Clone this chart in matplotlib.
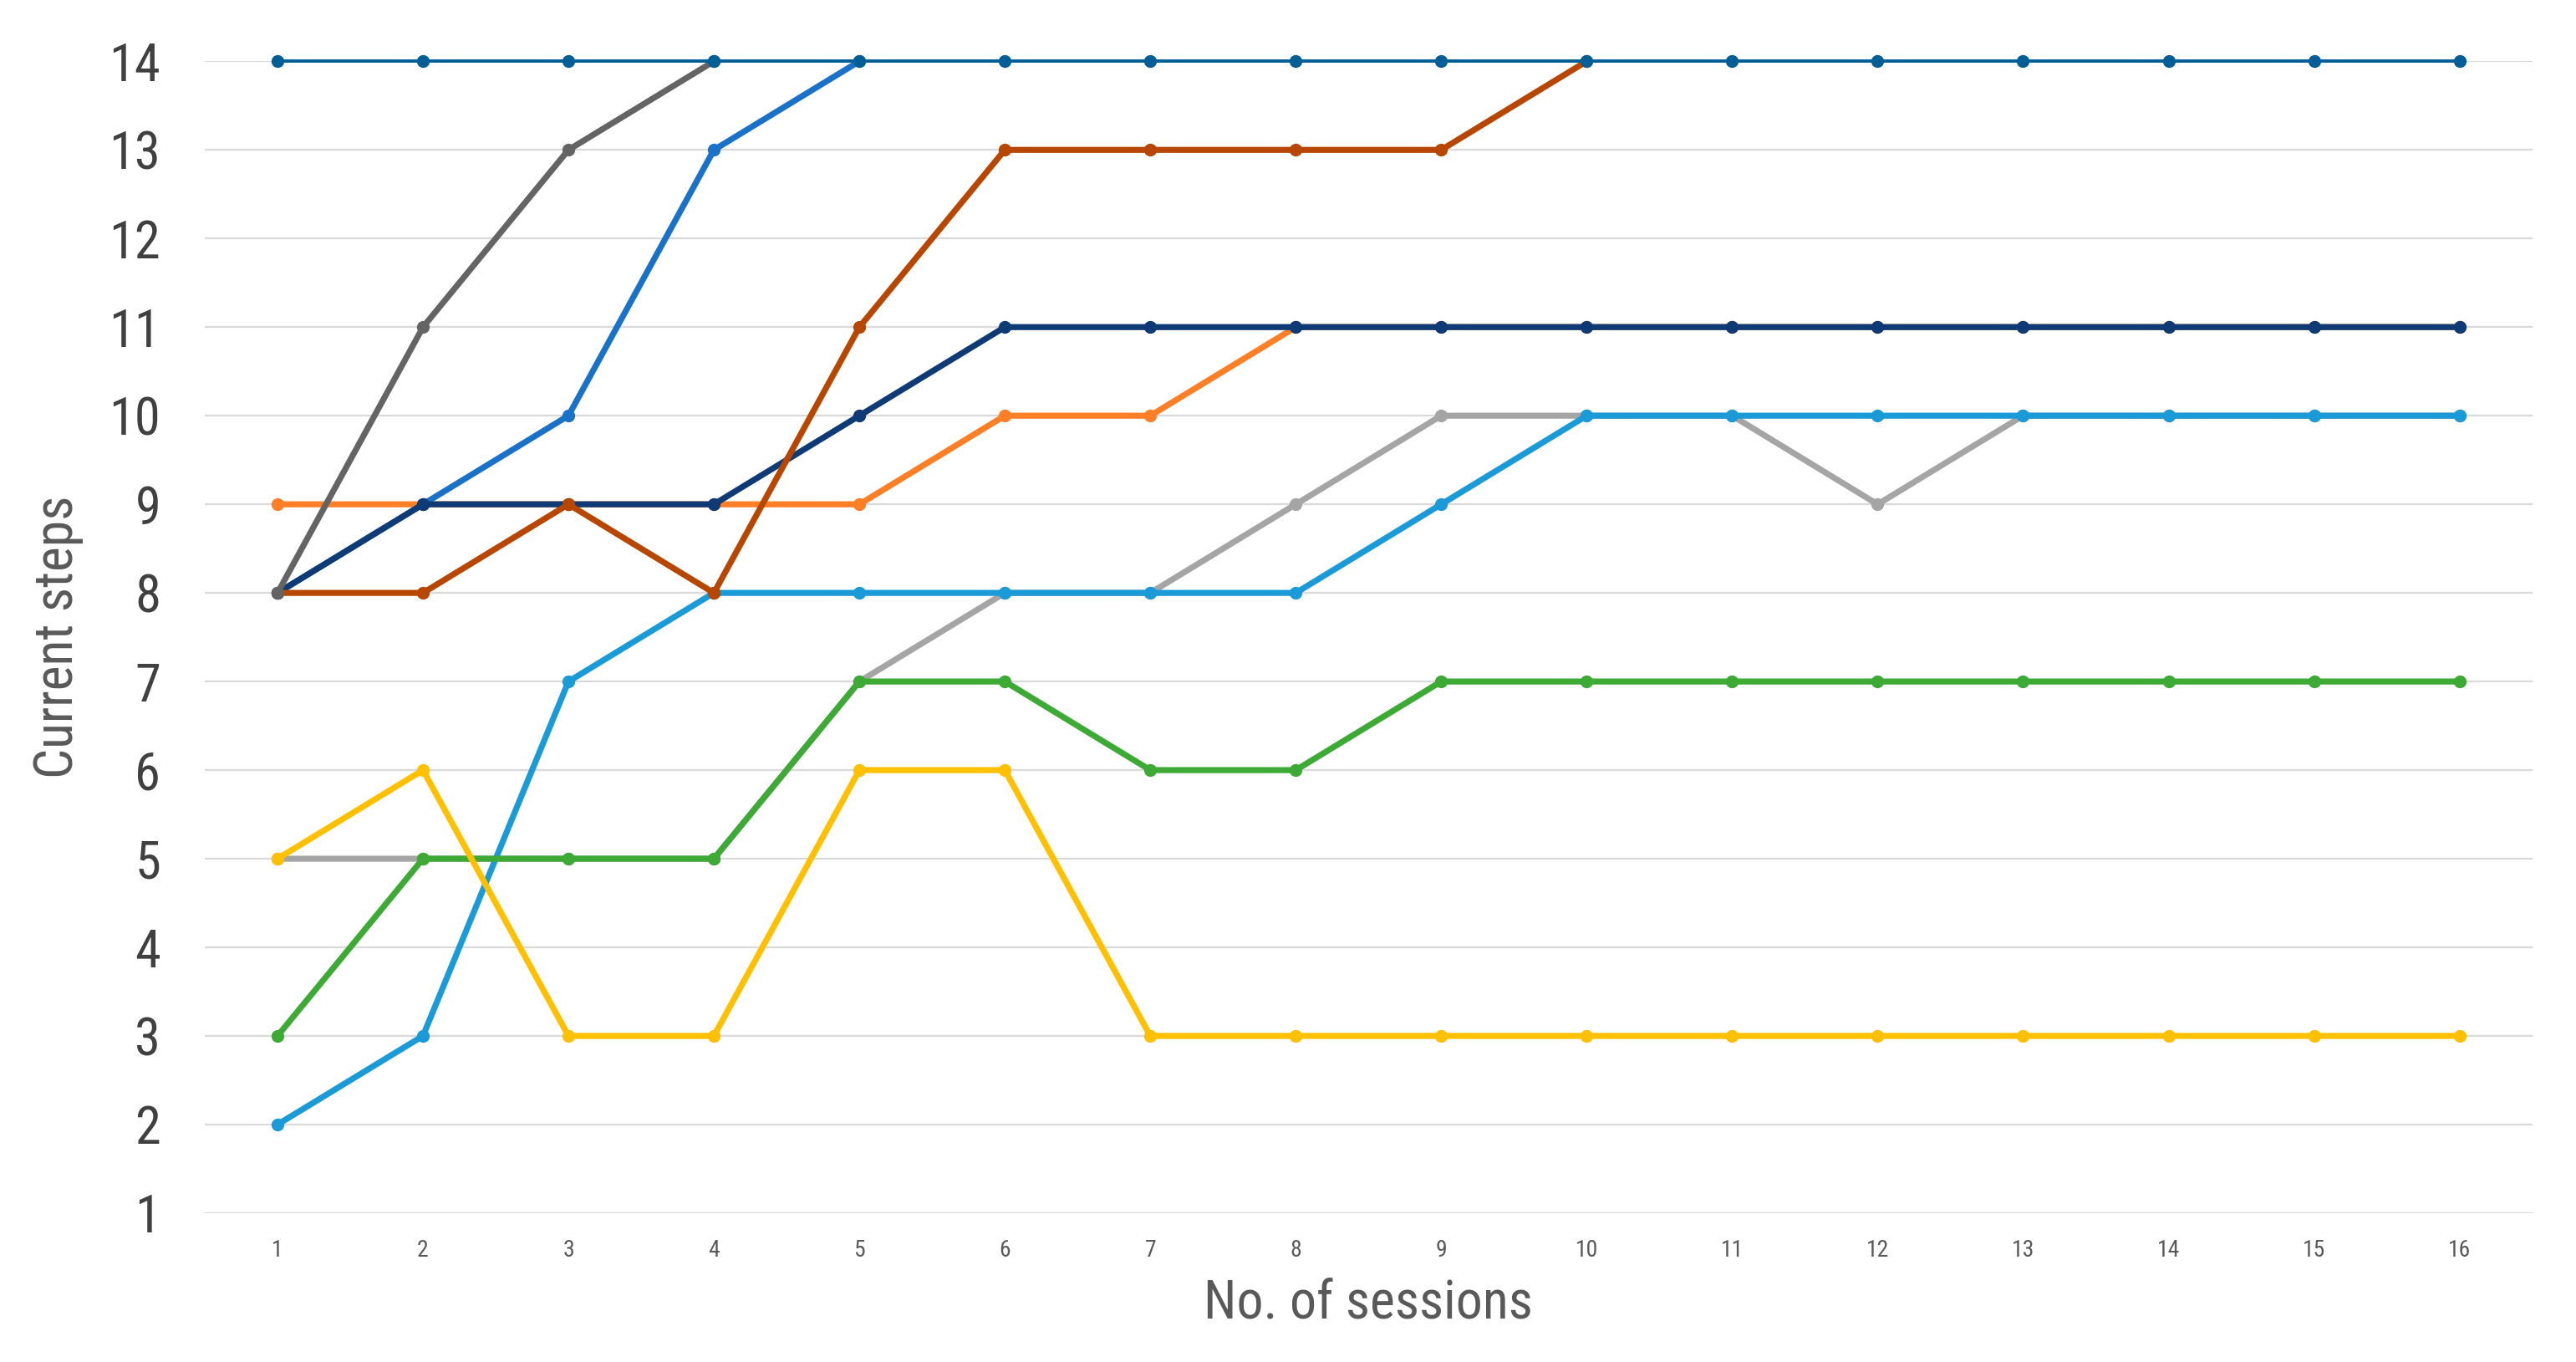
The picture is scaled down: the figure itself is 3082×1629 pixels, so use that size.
import matplotlib
matplotlib.use("Agg")
import matplotlib.pyplot as plt
from matplotlib import font_manager

nan = float('nan')

sessions = list(range(1, 17))

# series values (bottom layer first)
light_gray = [5, 5, 5, 5, 7, 8, 8, 9, 10, 10, 10, 9, 10, 10, 10, 10]
light_blue = [2, 3, 7, 8, 8, 8, 8, 8, 9, 10, 10, 10, 10, 10, 10, 10]
green = [3, 5, 5, 5, 7, 7, 6, 6, 7, 7, 7, 7, 7, 7, 7, 7]
yellow = [5, 6, 3, 3, 6, 6, 3, 3, 3, 3, 3, 3, 3, 3, 3, 3]
orange = [9, 9, 9, 9, 9, 10, 10, 11, 11, 11, 11, 11, 11, 11, 11, 11]
mid_blue = [8, 9, 10, 13, 14] + [nan] * 11
navy = [8, 9, 9, 9, 10, 11, 11, 11, 11, 11, 11, 11, 11, 11, 11, 11]
brown = [8, 8, 9, 8, 11, 13, 13, 13, 13, 14] + [nan] * 6
dark_gray = [8, 11, 13, 14] + [nan] * 12
top_blue = [14] * 16

series = [
    (light_gray, '#A5A5A5', 5.2),
    (light_blue, '#1B9AD8', 5.2),
    (green, '#3DAA35', 5.2),
    (yellow, '#FFC000', 5.2),
    (orange, '#FF7F27', 5.2),
    (mid_blue, '#1A72C8', 5.2),
    (navy, '#0E3B75', 5.2),
    (brown, '#B74700', 5.2),
    (dark_gray, '#646464', 5.2),
    (top_blue, '#005E96', 2.8),
]

# pick a narrow face if one is around
names = {f.name for f in font_manager.fontManager.ttflist}
fam = ['DejaVu Sans']
for cand in ['Liberation Sans Narrow', 'Roboto Condensed', 'Open Sans Condensed']:
    if cand in names:
        fam = [cand, 'DejaVu Sans']
        break
plt.rcParams['font.family'] = fam
plt.rcParams['font.stretch'] = 'condensed'

fig = plt.figure(figsize=(30.82, 16.29), dpi=100)
ax = fig.add_axes([0.0795, 0.1093, 0.9035, 0.8457])

for vals, col, lw in series:
    ax.plot(sessions, vals, color=col, lw=lw, marker='o', ms=10,
            clip_on=False, solid_joinstyle='round')

ax.set_xlim(0.5, 16.5)
ax.set_ylim(1, 14)
ax.set_yticks(range(1, 15))
ax.set_xticks(sessions)
ax.grid(axis='y', color='#D9D9D9', lw=1.6)
ax.set_axisbelow(True)
for s in ax.spines.values():
    s.set_visible(False)
ax.tick_params(axis='both', length=0)
ax.tick_params(axis='y', labelsize=45, labelcolor='#404040', pad=38)
ax.tick_params(axis='x', labelsize=20, labelcolor='#595959', pad=22)

ax.set_xlabel('No. of sessions', fontsize=46, color='#595959', labelpad=14)
ax.set_ylabel('Current steps', fontsize=46, color='#595959', labelpad=22)

fig.savefig('out.png', dpi=100, facecolor='white')
